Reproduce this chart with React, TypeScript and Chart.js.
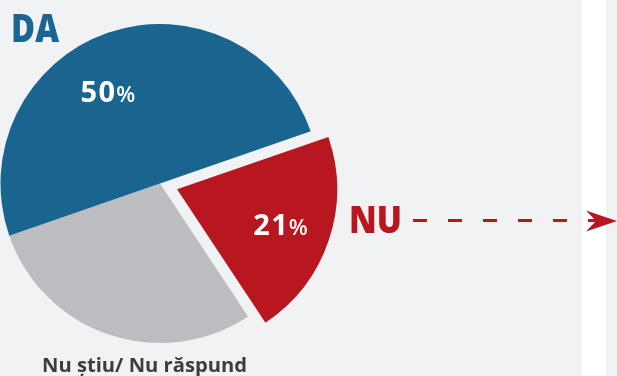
import React, { useEffect, useRef } from "react";
import { Chart, registerables } from "chart.js";

Chart.register(...registerables);

// Survey answers, drawn clockwise starting with "NU"
const categories = ["NU", "Nu știu/ Nu răspund", "DA"];
const shares = [21, 29, 50];
const sliceColors = ["#b8171f", "#bcbdc0", "#19658f"];
// Chart.js moves an arc by offset / 4 pixels along its middle angle
const sliceOffsets = [72, 0, 0];

const W = 617;
const H = 376;
const FONT = "'Open Sans', 'Noto Sans', sans-serif";

// Percent labels: which slice, distance from its centre (share of radius), angular nudge in degrees
const percentLabels = [
  { index: 0, frac: 0.69, nudge: 0.1 },
  { index: 2, frac: 0.661, nudge: -10.1 },
];

function drawPercent(ctx: CanvasRenderingContext2D, value: number, cx: number, cy: number) {
  const num = String(value);
  const c = ctx as any;
  c.letterSpacing = "1.5px";
  ctx.font = `700 29px ${FONT}`;
  const wNum = ctx.measureText(num).width;
  ctx.font = `600 22px ${FONT}`;
  const wPct = ctx.measureText("%").width;
  const total = wNum - 0.5 + wPct;
  const x0 = cx - total / 2;
  const base = cy + 10.5;
  ctx.fillStyle = "#ffffff";
  ctx.textAlign = "left";
  ctx.textBaseline = "alphabetic";
  ctx.font = `700 29px ${FONT}`;
  ctx.fillText(num, x0, base);
  ctx.font = `600 22px ${FONT}`;
  ctx.fillText("%", x0 + wNum - 0.5, base);
  c.letterSpacing = "0px";
}

const overlayPlugin = {
  id: "overlay",
  afterDatasetsDraw(chart: any) {
    const ctx: CanvasRenderingContext2D = chart.ctx;
    const arcs = chart.getDatasetMeta(0).data;
    ctx.save();

    for (const spec of percentLabels) {
      const arc = arcs[spec.index];
      const p = arc.getProps(["x", "y", "startAngle", "endAngle", "outerRadius"], true);
      const mid = (p.startAngle + p.endAngle) / 2;
      const shift = sliceOffsets[spec.index] / 4;
      const ox = p.x + Math.cos(mid) * shift;
      const oy = p.y + Math.sin(mid) * shift;
      const a = mid + (spec.nudge * Math.PI) / 180;
      const r = p.outerRadius * spec.frac;
      drawPercent(ctx, shares[spec.index], ox + Math.cos(a) * r, oy + Math.sin(a) * r);
    }

    ctx.textAlign = "left";
    ctx.textBaseline = "alphabetic";

    // "DA" heading
    ctx.fillStyle = "#1a6591";
    ctx.font = `800 38px ${FONT}`;
    ctx.fillText(categories[2], 11, 42, 48);

    // "NU" callout
    ctx.fillStyle = "#b8171f";
    ctx.font = `800 37px ${FONT}`;
    ctx.fillText(categories[0], 349, 233, 53);

    // "Nu știu/ Nu răspund" caption
    ctx.fillStyle = "#3d3d3d";
    ctx.font = `700 20.2px ${FONT}`;
    ctx.fillText(categories[1], 42, 372, 205);

    // dashed arrow leading right from "NU"
    ctx.strokeStyle = "#b8171f";
    ctx.lineWidth = 3;
    ctx.setLineDash([14, 21]);
    ctx.beginPath();
    ctx.moveTo(413, 220.5);
    ctx.lineTo(600, 220.5);
    ctx.stroke();
    ctx.setLineDash([]);
    ctx.fillStyle = "#b8171f";
    ctx.beginPath();
    ctx.moveTo(617, 221);
    ctx.lineTo(586, 210.5);
    ctx.lineTo(596, 221);
    ctx.lineTo(586, 231.5);
    ctx.closePath();
    ctx.fill();

    ctx.restore();
  },
};

export default function App() {
  const canvasRef = useRef<HTMLCanvasElement | null>(null);

  useEffect(() => {
    const canvas = canvasRef.current;
    if (!canvas) return;
    const chart = new Chart(canvas, {
      type: "pie",
      data: {
        labels: categories,
        datasets: [
          {
            data: shares,
            backgroundColor: sliceColors,
            offset: sliceOffsets,
            borderWidth: 0,
            clip: false,
          } as any,
        ],
      },
      options: {
        responsive: false,
        animation: false,
        devicePixelRatio: 1,
        events: [],
        rotation: 70.9,
        radius: 159.5,
        layout: { padding: { left: 0, top: 0, right: 297, bottom: 9 } },
        plugins: {
          legend: { display: false },
          tooltip: { enabled: false },
        },
      } as any,
      plugins: [overlayPlugin],
    });
    return () => chart.destroy();
  }, []);

  return (
    <div
      style={{
        position: "fixed",
        left: 0,
        top: 0,
        width: W,
        height: H,
        overflow: "hidden",
        background:
          "linear-gradient(to right, #f1f2f4 0px, #f1f2f4 582px, #ffffff 582px, #ffffff 606px, #f1f2f4 606px)",
      }}
    >
      <canvas ref={canvasRef} width={W} height={H} style={{ display: "block", width: W, height: H }} />
    </div>
  );
}
